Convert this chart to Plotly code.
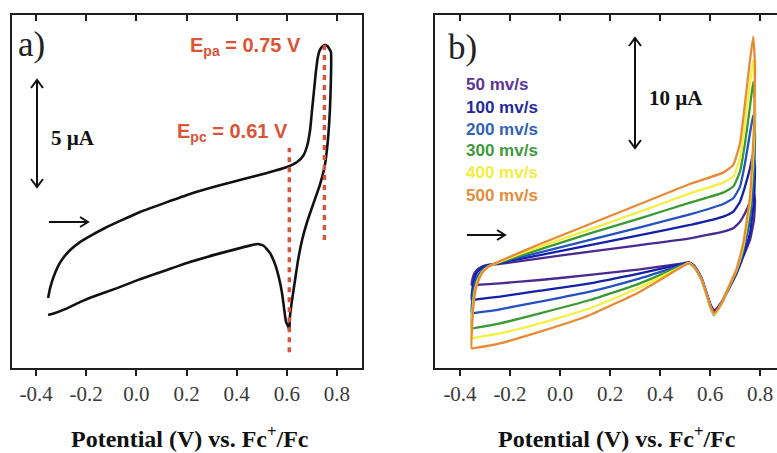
import plotly.graph_objects as go

W, H = 777, 453

# ---------------- Panel a: single cyclic voltammogram ----------------
# potential (V vs. Fc+/Fc) and current (µA)
a_fwd_v = [-0.352, -0.344, -0.332, -0.312, -0.292, -0.264, -0.225, -0.185, -0.125, -0.065,
           0.015, 0.122, 0.214, 0.322, 0.413, 0.521, 0.601, 0.641, 0.665, 0.681,
           0.693, 0.700, 0.708, 0.716, 0.724, 0.732, 0.744, 0.750, 0.762, 0.776]
a_fwd_i = [-2.24, -1.78, -1.31, -0.75, -0.37, 0.00, 0.37, 0.65, 1.03, 1.36,
           1.78, 2.24, 2.62, 2.99, 3.27, 3.60, 3.88, 4.11, 4.39, 4.86,
           5.61, 6.45, 7.38, 8.32, 9.02, 9.35, 9.53, 9.58, 9.53, 9.25]
a_rev_v = [0.776, 0.772, 0.764, 0.752, 0.732, 0.704, 0.681, 0.661, 0.645, 0.633,
           0.621, 0.613, 0.610, 0.605, 0.597, 0.589, 0.581, 0.569, 0.553, 0.533,
           0.509, 0.485, 0.461, 0.413, 0.322, 0.214, 0.122, 0.015, -0.077, -0.165,
           -0.225, -0.284, -0.324, -0.352]
a_rev_i = [7.94, 6.54, 5.14, 3.97, 3.04, 2.10, 1.31, 0.47, -0.47, -1.40,
           -2.34, -3.08, -3.74, -3.55, -3.36, -2.71, -2.01, -1.31, -0.65, -0.14,
           0.19, 0.28, 0.23, 0.09, -0.19, -0.56, -0.93, -1.36, -1.78, -2.15,
           -2.43, -2.76, -2.94, -3.04]
E_PA = 0.75
E_PC = 0.61

# ---------------- Panel b: scan-rate series ----------------
b_fwd_v = [-0.353, -0.351, -0.344, -0.333, -0.313, -0.287, -0.240, -0.080, 0.120, 0.320,
           0.520, 0.653, 0.693, 0.720, 0.740, 0.760, 0.773]
b_rev_v = [0.780, 0.776, 0.760, 0.733, 0.707, 0.673, 0.647, 0.627, 0.616, 0.603,
           0.587, 0.567, 0.540, 0.517, 0.493, 0.320, 0.120, -0.080, -0.240, -0.333,
           -0.353]

rate_labels = ["50 mv/s", "100 mv/s", "200 mv/s", "300 mv/s", "400 mv/s", "500 mv/s"]
rate_colors = ["#5b3596", "#1f2a9e", "#2f63b4", "#3f9a3c", "#f2ee3e", "#e68d3a"]
line_colors = ["#4a2a90", "#1420a8", "#2452c0", "#3a9a32", "#f4f040", "#e88a34"]

i_fwd_50 = [-2.27, -1.82, -1.27, -0.91, -0.61, -0.45, -0.36, 0.15, 0.76, 1.36,
            1.97, 2.58, 2.88, 3.48, 4.24, 5.30, 6.36]
i_rev_50 = [5.45, 3.64, 1.82, 0.30, -1.21, -2.73, -3.79, -4.39, -4.55, -4.09,
            -3.03, -1.67, -0.61, -0.21, -0.30, -0.85, -1.36, -1.82, -2.12, -2.27,
            -2.27]
i_fwd_100 = [-3.64, -2.73, -1.82, -1.15, -0.70, -0.45, -0.24, 0.45, 1.36, 2.27,
             3.18, 3.94, 4.39, 5.30, 6.67, 8.33, 9.70]
i_rev_100 = [8.48, 5.45, 2.42, 0.45, -1.06, -2.67, -3.88, -4.55, -4.76, -4.24,
             -3.09, -1.70, -0.61, -0.21, -0.36, -1.21, -2.12, -2.79, -3.33, -3.58,
             -3.64]
i_fwd_200 = [-4.85, -3.64, -2.48, -1.58, -0.91, -0.55, -0.21, 0.70, 1.82, 2.97,
             4.15, 5.09, 5.61, 6.67, 8.79, 11.52, 13.18]
i_rev_200 = [11.52, 7.88, 3.64, 0.76, -0.97, -2.61, -3.88, -4.61, -4.85, -4.30,
             -3.15, -1.76, -0.67, -0.24, -0.42, -1.67, -2.88, -3.79, -4.48, -4.79,
             -4.85]
i_fwd_300 = [-6.21, -4.55, -3.03, -1.97, -1.06, -0.61, -0.18, 0.97, 2.42, 3.79,
             5.21, 6.12, 6.67, 8.03, 10.61, 13.94, 16.21]
i_rev_300 = [13.94, 9.70, 4.55, 1.06, -0.91, -2.61, -3.94, -4.70, -5.00, -4.39,
             -3.21, -1.82, -0.73, -0.27, -0.48, -2.12, -3.64, -4.85, -5.76, -6.15,
             -6.21]
i_fwd_400 = [-7.12, -5.15, -3.33, -2.12, -1.15, -0.61, -0.15, 1.21, 2.79, 4.39,
             6.06, 7.03, 7.58, 9.24, 12.42, 16.06, 18.18]
i_rev_400 = [15.76, 10.91, 5.15, 1.27, -0.85, -2.58, -3.94, -4.70, -4.91, -4.36,
             -3.21, -1.82, -0.73, -0.27, -0.52, -2.48, -4.39, -5.76, -6.67, -7.03,
             -7.12]
i_fwd_500 = [-8.03, -5.76, -3.64, -2.27, -1.21, -0.61, -0.09, 1.45, 3.27, 5.09,
             6.91, 7.94, 8.64, 10.61, 14.24, 18.18, 20.30]
i_rev_500 = [17.58, 12.12, 5.76, 1.52, -0.76, -2.55, -3.88, -4.61, -4.85, -4.30,
             -3.18, -1.82, -0.76, -0.30, -0.55, -2.88, -5.00, -6.52, -7.58, -7.97,
             -8.03]

b_fwd_i = [i_fwd_50, i_fwd_100, i_fwd_200, i_fwd_300, i_fwd_400, i_fwd_500]
b_rev_i = [i_rev_50, i_rev_100, i_rev_200, i_rev_300, i_rev_400, i_rev_500]

tickvals = [-0.4, -0.2, 0.0, 0.2, 0.4, 0.6, 0.8]
ticktext = ["-0.4", "-0.2", "0.0", "0.2", "0.4", "0.6", "0.8"]

# ---------------- helpers ----------------
SERIF = "Liberation Serif"
SANS = "Liberation Sans"
INK = "#1e1e1e"
RED = "#da5436"
TICKFONT = dict(family=SERIF, size=21, color="#3a3a3a")


def fx(p):
    return p / W


def fy(p):
    return 1 - p / H


fig = go.Figure()

fig.add_trace(go.Scatter(x=a_fwd_v + a_rev_v, y=a_fwd_i + a_rev_i, mode="lines",
                         line=dict(color="#111111", width=2.6, shape="spline", smoothing=0.4),
                         xaxis="x", yaxis="y", showlegend=False, hoverinfo="skip"))

for lab, col, fi, ri in zip(rate_labels, line_colors, b_fwd_i, b_rev_i):
    fig.add_trace(go.Scatter(x=b_fwd_v + b_rev_v, y=fi + ri, mode="lines", name=lab,
                             line=dict(color=col, width=2.3, shape="spline", smoothing=0.4),
                             xaxis="x2", yaxis="y2", showlegend=False, hoverinfo="skip"))

# invisible traces that carry the inward top tick rows
fig.add_trace(go.Scatter(x=[0], y=[0], mode="lines", xaxis="x3", yaxis="y",
                         showlegend=False, hoverinfo="skip", line=dict(width=0)))
fig.add_trace(go.Scatter(x=[0], y=[0], mode="lines", xaxis="x4", yaxis="y2",
                         showlegend=False, hoverinfo="skip", line=dict(width=0)))

ydom = [fy(368), fy(15)]
XRANGE_A = [-0.496, 0.900]
XRANGE_B = [-0.5, 0.868]

bottom_axis = dict(tickmode="array", tickvals=tickvals, ticktext=ticktext,
                   ticks="outside", ticklen=6, tickwidth=2, tickcolor=INK,
                   showline=True, linewidth=2, linecolor=INK, showgrid=False, zeroline=False,
                   tickfont=TICKFONT)
top_axis = dict(tickmode="array", tickvals=tickvals, ticks="inside", ticklen=6, tickwidth=2,
                tickcolor=INK, showticklabels=False, showline=True, linewidth=2, linecolor=INK,
                showgrid=False, zeroline=False, side="top")
side_axis = dict(showticklabels=False, ticks="", showline=True, linewidth=2, linecolor=INK,
                 showgrid=False, zeroline=False)

fig.update_layout(
    width=W, height=H,
    margin=dict(l=0, r=0, t=0, b=0),
    font=dict(family=SERIF, size=21, color="#3a3a3a"),
    paper_bgcolor="white", plot_bgcolor="white",
    xaxis=dict(domain=[fx(12), fx(362)], range=XRANGE_A, anchor="y", **bottom_axis),
    yaxis=dict(domain=ydom, range=[-5.51, 10.98], anchor="x", mirror=True, **side_axis),
    xaxis3=dict(overlaying="x", range=XRANGE_A, anchor="y", **top_axis),
    xaxis2=dict(domain=[fx(435), 1.0], range=XRANGE_B, anchor="y2", **bottom_axis),
    yaxis2=dict(domain=ydom, range=[-9.82, 22.27], anchor="x2", **side_axis),
    xaxis4=dict(overlaying="x2", range=XRANGE_B, anchor="y2", **top_axis),
)

# dashed guides at the labelled peak potentials
fig.add_shape(type="line", xref="x", yref="y", x0=E_PC, x1=E_PC, y0=-4.77, y1=4.77,
              line=dict(color=RED, width=3.4, dash="5px,5px"))
fig.add_shape(type="line", xref="x", yref="y", x0=E_PA, x1=E_PA, y0=0.47, y1=9.81,
              line=dict(color=RED, width=3.4, dash="5px,5px"))


def arrow_path(points):
    return " ".join(("M" if k == 0 else "L") + f" {fx(x):.5f},{fy(y):.5f}"
                    for k, (x, y) in enumerate(points))


def add_path(points):
    fig.add_shape(type="path", xref="paper", yref="paper", path=arrow_path(points),
                  line=dict(color="#111111", width=2))


def double_arrow(x, ytop, ybot):
    add_path([(x, ytop), (x, ybot)])
    add_path([(x - 6, ytop + 8), (x, ytop), (x + 6, ytop + 8)])
    add_path([(x - 6, ybot - 8), (x, ybot), (x + 6, ybot - 8)])


def right_arrow(x0, x1, y):
    add_path([(x0, y), (x1, y)])
    add_path([(x1 - 8, y - 5), (x1, y), (x1 - 8, y + 5)])


double_arrow(37, 80, 187)
right_arrow(49, 88, 222)
double_arrow(635, 38, 148)
right_arrow(467, 505, 235)


def note(text, x, y, font, xanchor="left"):
    fig.add_annotation(text=text, xref="paper", yref="paper", x=fx(x), y=fy(y),
                       xanchor=xanchor, yanchor="middle", showarrow=False, font=font)


note("a)", 16, 44, dict(family=SERIF, size=35, color="#222222"))
note("b)", 446, 48, dict(family=SERIF, size=35, color="#222222"))
note("<b>5 µA</b>", 49, 138, dict(family=SERIF, size=21, color="#111111"))
note("<b>10 µA</b>", 647, 98, dict(family=SERIF, size=21, color="#111111"))
note(f"<b>E<sub>pa</sub> = {E_PA:.2f} V</b>", 245, 47, dict(family=SANS, size=20, color=RED),
     xanchor="center")
note(f"<b>E<sub>pc</sub> = {E_PC:.2f} V</b>", 233, 133, dict(family=SANS, size=20, color=RED),
     xanchor="center")

for k, (lab, col) in enumerate(zip(rate_labels, rate_colors)):
    note(f"<b>{lab}</b>", 464, 85 + 22 * k, dict(family=SANS, size=17, color=col))

axis_title = "<b>Potential (V) vs. Fc<sup>+</sup>/Fc</b>"
note(axis_title, 190, 437, dict(family=SERIF, size=24, color="#111111"), xanchor="center")
note(axis_title, 617, 437, dict(family=SERIF, size=24, color="#111111"), xanchor="center")

fig.write_html("out.html")
